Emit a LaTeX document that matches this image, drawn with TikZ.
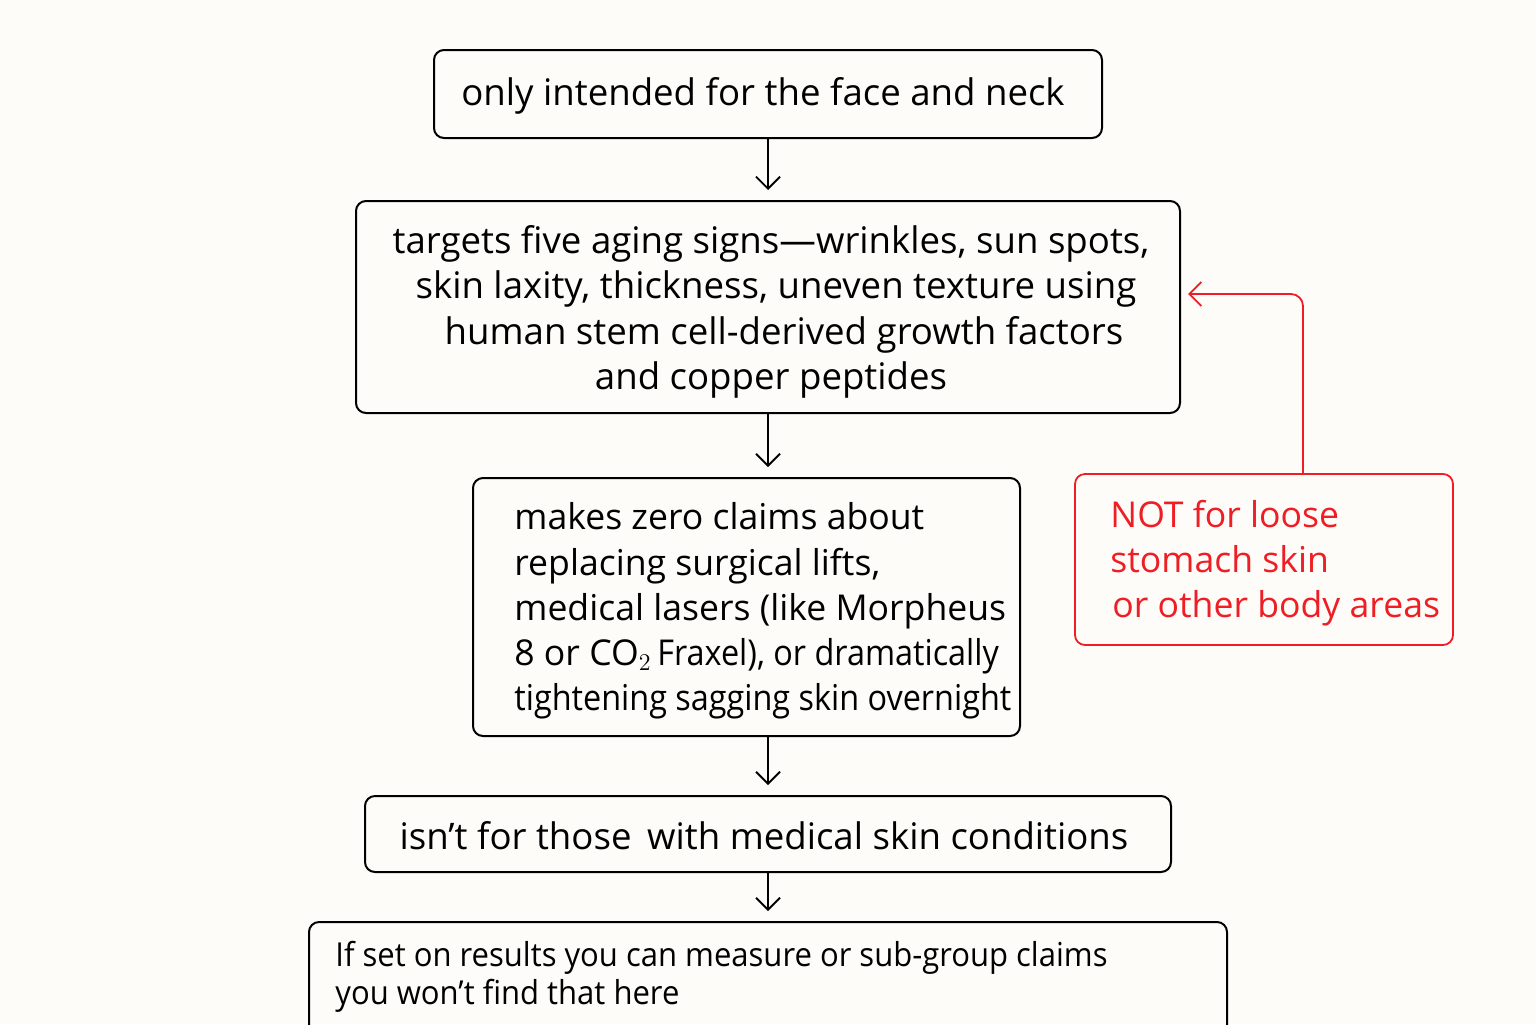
\documentclass[tikz,border=0pt]{standalone}
\usepackage{fontspec}
\setmainfont{Open Sans}
\newfontfamily\condfont[FakeStretch=0.91]{Open Sans}
\newfontfamily\condfontb[FakeStretch=0.94]{Open Sans}
\usetikzlibrary{arrows.meta}
\definecolor{bgc}{RGB}{253,252,249}
\definecolor{redc}{RGB}{238,30,36}
\tikzset{
  box/.style={draw=black, line width=1pt, rounded corners=5pt, inner sep=0pt},
  redbox/.style={draw=redc, line width=0.9pt, rounded corners=5pt, inner sep=0pt},
  txt/.style={inner sep=0pt, font=\fontsize{18.3}{22.7}\selectfont},
  txtb/.style={inner sep=0pt, font=\fontsize{17.8}{22.6}\selectfont},
  arr/.style={draw=black, line width=0.9pt, -{Straight Barb[length=6pt,width=12pt,line width=0.9pt]}, shorten >=5pt},
  redarr/.style={draw=redc, line width=0.9pt, -{Straight Barb[length=6pt,width=12pt,line width=0.9pt]}, shorten >=3.5pt, rounded corners=6pt}
}
\begin{document}
\begin{tikzpicture}[x=0.5pt,y=-0.5pt]
\useasboundingbox[fill=bgc] (0,0) rectangle (1536,1024);
% boxes
\node[box, minimum width=334pt, minimum height=44pt] (b1) at (768,94) {};
\node[box, minimum width=412pt, minimum height=106pt] (b2) at (768,307) {};
\node[box, minimum width=273.5pt, minimum height=129pt] (b3) at (746.5,607) {};
\node[box, minimum width=403pt, minimum height=38pt] (b4) at (768,834) {};
\node[box, minimum width=459pt, minimum height=100pt] (b5) at (768,1022) {};
\node[redbox, minimum width=189pt, minimum height=85.5pt] (r) at (1264,559.5) {};
% texts
\node[txt] (t1) at (763,96) {only intended for the face and neck};
\node[txt, align=center] (t2) at (771,312) {targets five aging signs---wrinkles, sun spots,\\
 \hspace*{5pt}skin laxity, thickness, uneven texture using\\
 \hspace*{13pt}human stem cell-derived growth factors\\
 and copper peptides};
\node[txtb, align=left, anchor=west] (t3) at (514,611) {makes zero claims about\\
replacing surgical lifts,\\
medical lasers (like Morpheus\\
8 or CO$_2$\,{\condfont Fraxel), or dramatically}\\
{\condfont tightening sagging skin overnight}};
\node[txt] (t4) at (764,836) {isn’t for those\, with medical skin conditions};
\node[txt, align=left, anchor=west, font=\condfontb\fontsize{16.5}{19}\selectfont] (t5) at (335,977) {If set on results you can measure or sub-group claims\\
you won’t find that here};
\node[txtb, align=left, anchor=west, text=redc] (tr) at (1110,563) {NOT for loose\\
stomach skin\\
\hspace*{1pt}or other body areas};
% connectors
\draw[arr] (b1.south) -- (b2.north);
\draw[arr] (b2.south) -- (b2.south |- b3.north);
\draw[arr] (b3.south -| b4.north) -- (b4.north);
\draw[arr] (b4.south) -- (b4.south |- b5.north);
\coordinate (k) at (1303,294);
\draw[redarr] (r.north -| k) |- (b2.east |- k);
\end{tikzpicture}
\end{document}
